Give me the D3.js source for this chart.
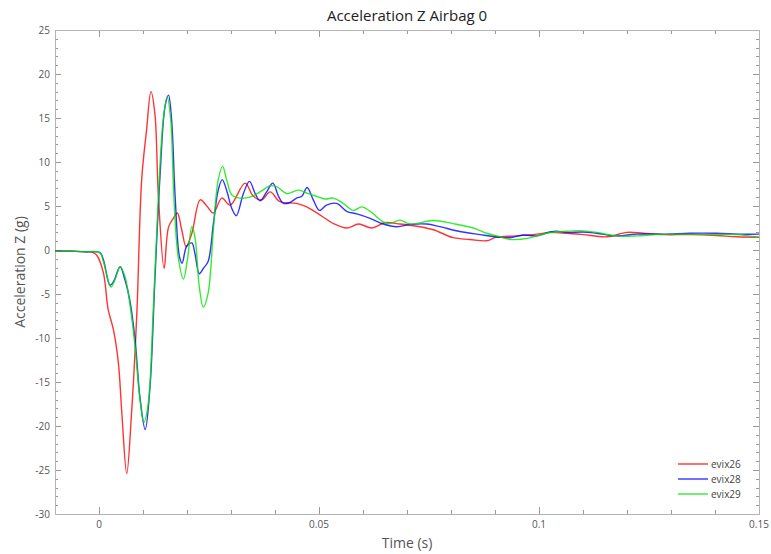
<!DOCTYPE html>
<html>
<head>
<meta charset="utf-8">
<script src="https://cdn.jsdelivr.net/npm/d3@7"></script>
<style>
  body { margin: 0; background: #fff; }
  svg { display: block; font-family: "Liberation Sans Narrow", "Open Sans", sans-serif; }
  .tick-label { fill: #555; font-size: 10px; }
  .frame { fill: none; stroke: #b4b4b4; stroke-width: 1; }
  .series { fill: none; stroke-width: 1.4; stroke-opacity: 0.8; }
</style>
</head>
<body>
<svg id="chart"></svg>
<script>
// series values, [time (s), accel (g)]
var evix26 = [
  [-0.01, -0.1], [-0.006, -0.15], [-0.003, -0.2], [-0.0013, -0.3], [-0.0005, -0.6],
  [0.001, -2.6], [0.0021, -6.8], [0.0033, -9.1], [0.0044, -12.8], [0.0052, -18.6],
  [0.0063, -25.4], [0.0074, -18.5], [0.0086, -7.2], [0.0097, 8], [0.0108, 13.6],
  [0.0118, 18.0], [0.0127, 15.5], [0.0135, 6.1], [0.0148, -2.1], [0.0158, 2.6],
  [0.0169, 3.6], [0.0178, 4.2], [0.0188, 2.3], [0.0198, 0.4], [0.0211, 1.9],
  [0.023, 5.7], [0.0245, 5.0], [0.026, 4.2], [0.0279, 5.9], [0.0298, 5.1],
  [0.0332, 7.6], [0.0351, 6.1], [0.037, 5.7], [0.0389, 6.6], [0.0411, 5.5],
  [0.0449, 5.3], [0.0472, 4.9], [0.0502, 4.0], [0.0533, 3.0], [0.0563, 2.5],
  [0.059, 2.95], [0.062, 2.5], [0.065, 3.1], [0.0684, 2.95], [0.0722, 2.7],
  [0.076, 2.3], [0.0805, 1.4], [0.0843, 1.2], [0.0881, 1.05], [0.0902, 1.45],
  [0.0949, 1.6], [0.0995, 1.8], [0.1025, 2.0], [0.1063, 1.9], [0.11, 1.75],
  [0.1154, 1.5], [0.12, 2.0], [0.1237, 1.9], [0.1283, 1.75], [0.1343, 1.75],
  [0.1403, 1.65], [0.1449, 1.5], [0.15, 1.45]
];
var evix28 = [
  [-0.01, -0.1], [-0.006, -0.15], [-0.003, -0.2], [0.0002, -0.3], [0.001, -1.1],
  [0.0025, -4.0], [0.0033, -3.6], [0.0048, -1.9], [0.0059, -3.4], [0.007, -5.7],
  [0.0082, -10.2], [0.0093, -16.7], [0.0105, -20.4], [0.0116, -15.5], [0.0127, -3.4],
  [0.0139, 8.7], [0.015, 16.3], [0.0158, 17.6], [0.0165, 14.8], [0.0173, 6.1],
  [0.0183, -0.8], [0.0189, -1.5], [0.0199, 0.4], [0.0211, 0.8], [0.0218, -0.4],
  [0.0228, -2.7], [0.0237, -2.1], [0.0248, -1.3], [0.026, 3.0], [0.0271, 6.8],
  [0.028, 8.0], [0.029, 6.8], [0.0302, 4.7], [0.0312, 3.9], [0.0328, 6.4],
  [0.0342, 7.8], [0.0355, 6.4], [0.0366, 5.6], [0.0381, 6.6], [0.0395, 7.6],
  [0.0408, 6.1], [0.0419, 5.3], [0.0434, 5.4], [0.0449, 5.9], [0.0461, 6.1],
  [0.0473, 7.1], [0.0487, 5.7], [0.0501, 4.5], [0.0517, 5.1], [0.054, 5.3],
  [0.0563, 4.4], [0.0586, 4.1], [0.0616, 3.6], [0.0646, 2.95], [0.0677, 2.65],
  [0.0707, 2.9], [0.0745, 2.95], [0.0775, 2.65], [0.082, 2.1], [0.0866, 1.75],
  [0.0911, 1.45], [0.0934, 1.4], [0.0964, 1.7], [0.0995, 1.6], [0.1025, 2.05],
  [0.104, 2.15], [0.1063, 2.0], [0.11, 2.05], [0.1131, 1.9], [0.1177, 1.6],
  [0.1222, 1.8], [0.1283, 1.8], [0.1343, 1.9], [0.1403, 1.9], [0.1457, 1.8],
  [0.15, 1.8]
];
var evix29 = [
  [-0.01, -0.1], [-0.006, -0.15], [-0.003, -0.2], [0.0002, -0.3], [0.001, -1.3],
  [0.0027, -4.2], [0.0036, -3.4], [0.0048, -1.9], [0.0059, -3.0], [0.007, -6.1],
  [0.0082, -11], [0.0093, -17], [0.0102, -19.6], [0.0112, -17.4], [0.0123, -7.2],
  [0.0135, 6.1], [0.0146, 14.8], [0.0155, 17.4], [0.0163, 14.8], [0.017, 6.1],
  [0.018, -0.8], [0.0192, -3.3], [0.0201, -1.1], [0.0211, 2.65], [0.0218, 1.5],
  [0.0228, -4.2], [0.0237, -6.5], [0.0248, -4.9], [0.026, 2.3], [0.0271, 8.0],
  [0.0281, 9.5], [0.029, 8.0], [0.0302, 6.25], [0.032, 5.9], [0.0343, 6.0],
  [0.0366, 6.6], [0.0389, 7.3], [0.0404, 7.2], [0.0427, 6.4], [0.0453, 6.8],
  [0.0476, 6.4], [0.0495, 6.1], [0.0514, 5.8], [0.0533, 5.9], [0.0555, 5.3],
  [0.0578, 4.5], [0.0597, 4.9], [0.0616, 4.4], [0.0646, 3.2], [0.0661, 3.0],
  [0.0684, 3.4], [0.0707, 2.95], [0.076, 3.35], [0.0805, 3.0], [0.0851, 2.5],
  [0.0881, 1.9], [0.0911, 1.5], [0.0934, 1.2], [0.0977, 1.35], [0.1017, 1.9],
  [0.1055, 2.1], [0.1093, 2.2], [0.1131, 2.0], [0.1177, 1.6], [0.1222, 1.6],
  [0.1268, 1.75], [0.1328, 1.8], [0.1389, 1.75], [0.1449, 1.75], [0.15, 1.45]
];

var seriesNames = ["evix26", "evix28", "evix29"];
var seriesColors = ["#ff0000", "#0000ff", "#00e600"];
var xTickLabels = [0, 0.05, 0.1, 0.15];
var yTickLabels = [25, 20, 15, 10, 5, 0, -5, -10, -15, -20, -25, -30];

var width = 771, height = 554;
var margin = {top: 30, right: 12, bottom: 40, left: 55};

var svg = d3.select("#chart").attr("width", width).attr("height", height);

var x = d3.scaleLinear().domain([-0.01, 0.15]).range([margin.left, width - margin.right]);
var y = d3.scaleLinear().domain([-30, 25]).range([height - margin.bottom, margin.top]);

var x0 = x.range()[0], x1 = x.range()[1];
var y0 = y.range()[0], y1 = y.range()[1];

// ticks drawn inward on all four sides
var xMinor = d3.range(0, 0.1501, 0.01);
var yMinor = d3.range(-30, 25.01, 1);

function isMajorX(v) { return Math.abs(v / 0.05 - Math.round(v / 0.05)) < 1e-6; }
function isMajorY(v) { return Math.abs(v % 5) < 1e-6; }

var ticks = svg.append("g").attr("stroke", "#999").attr("stroke-width", 1);

ticks.selectAll(".xb").data(xMinor).enter().append("line")
  .attr("x1", function(d) { return Math.round(x(d)) + 0.5; })
  .attr("x2", function(d) { return Math.round(x(d)) + 0.5; })
  .attr("y1", y0)
  .attr("y2", function(d) { return y0 - (isMajorX(d) ? 7 : 4); });
ticks.selectAll(".xt").data(xMinor).enter().append("line")
  .attr("x1", function(d) { return Math.round(x(d)) + 0.5; })
  .attr("x2", function(d) { return Math.round(x(d)) + 0.5; })
  .attr("y1", y1)
  .attr("y2", function(d) { return y1 + (isMajorX(d) ? 7 : 4); });
ticks.selectAll(".yl").data(yMinor).enter().append("line")
  .attr("y1", function(d) { return Math.round(y(d)) + 0.5; })
  .attr("y2", function(d) { return Math.round(y(d)) + 0.5; })
  .attr("x1", x0)
  .attr("x2", function(d) { return x0 + (isMajorY(d) ? 6 : 3); });
ticks.selectAll(".yr").data(yMinor).enter().append("line")
  .attr("y1", function(d) { return Math.round(y(d)) + 0.5; })
  .attr("y2", function(d) { return Math.round(y(d)) + 0.5; })
  .attr("x1", x1)
  .attr("x2", function(d) { return x1 - (isMajorY(d) ? 6 : 3); });

svg.append("rect").attr("class", "frame")
  .attr("x", x0 + 0.5).attr("y", y1 + 0.5)
  .attr("width", x1 - x0).attr("height", y0 - y1);

// tick labels
svg.append("g").selectAll("text").data(xTickLabels).enter().append("text")
  .attr("class", "tick-label")
  .attr("x", function(d) { return x(d); })
  .attr("y", y0 + 14)
  .attr("text-anchor", "middle")
  .text(function(d) { return d; });

svg.append("g").selectAll("text").data(yTickLabels).enter().append("text")
  .attr("class", "tick-label")
  .attr("x", x0 - 5)
  .attr("y", function(d) { return y(d) + 3.5; })
  .attr("text-anchor", "end")
  .text(function(d) { return d; });

// titles
svg.append("text")
  .attr("x", (x0 + x1) / 2).attr("y", 21)
  .attr("text-anchor", "middle")
  .attr("fill", "#222").style("font-size", "15px")
  .text("Acceleration Z Airbag 0");

svg.append("text")
  .attr("x", (x0 + x1) / 2).attr("y", 548)
  .attr("text-anchor", "middle")
  .attr("fill", "#555").style("font-size", "14px")
  .text("Time (s)");

svg.append("text")
  .attr("transform", "translate(25," + ((y0 + y1) / 2) + ") rotate(-90)")
  .attr("text-anchor", "middle")
  .attr("fill", "#555").style("font-size", "14px")
  .text("Acceleration Z (g)");

// curves
var line = d3.line()
  .x(function(d) { return x(d[0]); })
  .y(function(d) { return y(d[1]); })
  .curve(d3.curveCatmullRom.alpha(0.5));

var allSeries = [evix26, evix28, evix29];

var plot = svg.append("g");
plot.selectAll("path").data(allSeries).enter().append("path")
  .attr("class", "series")
  .attr("stroke", function(d, i) { return seriesColors[i]; })
  .attr("d", line);

// legend
var legend = svg.append("g").attr("transform", "translate(678,464)");
var item = legend.selectAll("g").data(seriesNames).enter().append("g")
  .attr("transform", function(d, i) { return "translate(0," + (i * 15) + ")"; });
item.append("line")
  .attr("x1", 0).attr("x2", 30).attr("y1", 0).attr("y2", 0)
  .attr("stroke", function(d, i) { return seriesColors[i]; })
  .attr("stroke-width", 1.4).attr("stroke-opacity", 0.8);
item.append("text")
  .attr("x", 33).attr("y", 3.5)
  .attr("fill", "#444").style("font-size", "10px")
  .text(function(d) { return d; });
</script>
</body>
</html>
